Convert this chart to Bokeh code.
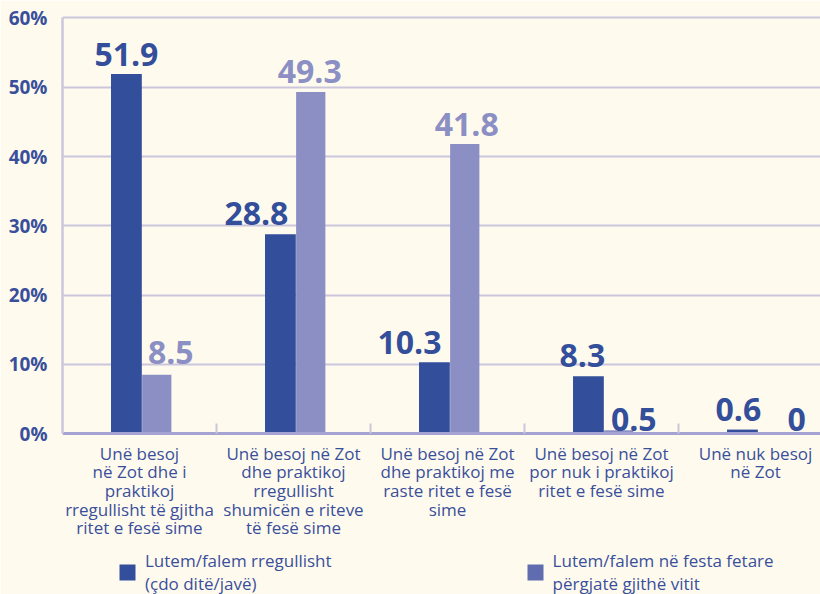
from bokeh.plotting import figure
from bokeh.models import (FixedTicker, Range1d, Legend, LegendItem, ColumnDataSource,
                          PrintfTickFormatter)
from bokeh.core.properties import value
from bokeh.embed import file_html
from bokeh.resources import INLINE

# ---- data ----
categories = [
    "Unë besoj\nnë Zot dhe i\npraktikoj\nrregullisht të gjitha\nritet e fesë sime",
    "Unë besoj në Zot\ndhe praktikoj\nrregullisht\nshumicën e riteve\ntë fesë sime",
    "Unë besoj në Zot\ndhe praktikoj me\nraste ritet e fesë\nsime",
    "Unë besoj në Zot\npor nuk i praktikoj\nritet e fesë sime",
    "Unë nuk besoj\nnë Zot",
]
series_names = ["Lutem/falem rregullisht\n(çdo ditë/javë)",
                "Lutem/falem në festa fetare\npërgjatë gjithë vitit"]
regular = [51.9, 28.8, 10.3, 8.3, 0.6]
holidays = [8.5, 49.3, 41.8, 0.5, 0]
y_ticks = [0, 10, 20, 30, 40, 50, 60]

# ---- styles ----
BG = "#FEFBEE"
DARK = "#334E9A"
LIGHT = "#8B8FC4"
LEGEND_LIGHT = "#5F6DB0"
GRID = "#CBC6DC"
AXIS = "#A5A3D1"
TEXT = "#3A4F9B"
FONT = "Open Sans"

# label placement (screen px, negative = up) and colours
reg_dx = [0, -24, -25, -6, -4]
reg_dy = [-20, -21, -20, -21, -20]
hol_dx = [14, -1, 2, 15, 24]
hol_dy = [-22, -21, -20, -11, -14]
hol_col = [LIGHT, LIGHT, LIGHT, DARK, DARK]

n = len(categories)
xc = list(range(n))
x_reg = [i + 0.415 for i in xc]
x_hol = [i + 0.612 for i in xc]

p = figure(width=820, height=594, output_backend="svg", toolbar_location=None,
           x_range=Range1d(0, 4.922), y_range=Range1d(-23.2, 60.5),
           min_border_left=62, min_border_right=0, min_border_top=14, min_border_bottom=0,
           background_fill_color=BG, border_fill_color=BG, outline_line_color=None)

r1 = p.vbar(x=x_reg, top=regular, width=0.2, fill_color=DARK, line_color=None)
r2 = p.vbar(x=x_hol, top=holidays, width=0.19, fill_color=LIGHT, line_color=None)

src_r = ColumnDataSource(dict(x=x_reg, y=regular, t=[f"{v:g}" for v in regular],
                              dx=reg_dx, dy=reg_dy, c=[DARK] * n))
src_h = ColumnDataSource(dict(x=x_hol, y=holidays, t=[f"{v:g}" for v in holidays],
                              dx=hol_dx, dy=hol_dy, c=hol_col))
for s in (src_r, src_h):
    p.text(x="x", y="y", text="t", source=s, x_offset="dx", y_offset="dy",
           text_color="c", text_font=value(FONT), text_font_size="32px",
           text_font_style="bold", text_align="center", text_baseline="alphabetic")

# grid
p.xgrid.visible = False
p.ygrid.ticker = FixedTicker(ticks=y_ticks[1:])
p.ygrid.grid_line_color = GRID
p.ygrid.grid_line_width = 2

# y axis
p.yaxis.ticker = FixedTicker(ticks=y_ticks)
p.yaxis.bounds = (y_ticks[0], y_ticks[-1])
p.yaxis.formatter = PrintfTickFormatter(format="%d%%")
p.yaxis.axis_line_color = GRID
p.yaxis.axis_line_width = 2.5
p.yaxis.major_tick_line_color = None
p.yaxis.minor_tick_line_color = None
p.yaxis.major_label_text_font_size = "19px"
p.yaxis.major_label_text_font_style = "bold"
p.yaxis.major_label_text_color = TEXT
p.yaxis.major_label_standoff = 9

# x axis, drawn at y = 0 inside the frame
p.xaxis.fixed_location = 0
p.xaxis.ticker = FixedTicker(ticks=[i + 0.5 for i in xc], minor_ticks=list(range(1, n)))
p.xaxis.major_label_overrides = {i + 0.5: categories[i] for i in xc}
p.xaxis.axis_line_color = AXIS
p.xaxis.axis_line_width = 3
p.xaxis.major_tick_line_color = None
p.xaxis.minor_tick_line_color = GRID
p.xaxis.minor_tick_line_width = 2
p.xaxis.minor_tick_in = 10
p.xaxis.minor_tick_out = 0
p.xaxis.major_label_text_font_size = "17px"
p.xaxis.major_label_text_color = TEXT
p.xaxis.major_label_text_line_height = 0.81
p.xaxis.major_label_standoff = 2

for ax in (p.xaxis[0], p.yaxis[0]):
    ax.major_label_text_font = FONT

# legend at the bottom of the frame
d2 = p.vbar(x=[-10], top=[1], width=0.2, fill_color=LEGEND_LIGHT, line_color=None)
legend = Legend(items=[LegendItem(label=series_names[0], renderers=[r1]),
                       LegendItem(label=series_names[1], renderers=[d2])],
                orientation="horizontal", location=(55, -1),
                glyph_width=20, glyph_height=20, label_standoff=8, spacing=193,
                label_text_font=FONT, label_text_font_size="17px",
                label_text_color=TEXT, label_text_line_height=0.7,
                background_fill_alpha=0, border_line_alpha=0, padding=0, margin=0)
p.add_layout(legend)

open("out.html", "w").write(file_html(p, INLINE))
